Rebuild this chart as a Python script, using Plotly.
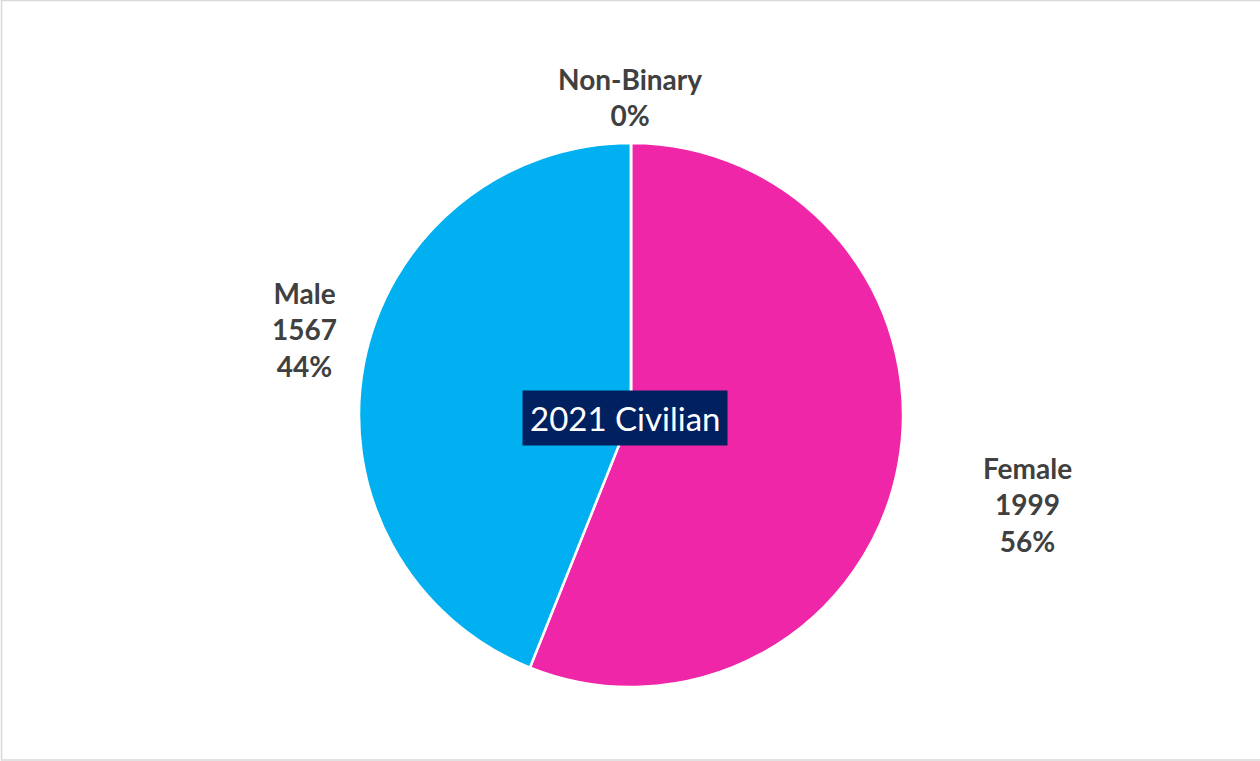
import math
import plotly.graph_objects as go

labels = ["Female", "Male", "Non-Binary"]
values = [1999, 1567, 0]
show_count = [True, True, False]
colors = ["#F026A8", "#00B0F0", "#7F7F7F"]
label_dist = [1.49, 1.24, 1.17]        # label distance as fraction of radius
label_shift = [(-1, -13), (5, 22), (-1, 0)]  # pixel nudges (x, y-up)
center_title = "2021 Civilian"

W, H = 1260, 761
cx, cy, R = 631, 415, 272

fig = go.Figure(go.Pie(
    labels=labels, values=values, sort=False, direction="clockwise", rotation=0,
    marker=dict(colors=colors, line=dict(color="white", width=2.5)),
    textinfo="none", hoverinfo="label+value+percent", showlegend=False,
    domain=dict(x=[(cx - R) / W, (cx + R) / W], y=[1 - (cy + R) / H, 1 - (cy - R) / H]),
))

total = sum(values)
cum = 0
annotations = []
for lab, v, sc, f, (sx, sy) in zip(labels, values, show_count, label_dist, label_shift):
    frac = v / total
    mid = (cum + frac / 2) * 2 * math.pi
    if v == 0:
        mid = cum * 2 * math.pi if cum < 1 else 0
    cum += frac
    px = cx + f * R * math.sin(mid)
    py = cy - f * R * math.cos(mid)
    pct = round(frac * 100)
    lines = [lab] + ([str(v)] if sc else []) + [f"{pct}%"]
    annotations.append(dict(
        x=px / W, y=1 - py / H, xref="paper", yref="paper", showarrow=False,
        xshift=sx, yshift=sy,
        text="<br>".join(f"<b>{t}</b>" for t in lines),
        font=dict(family="Lato, Open Sans, sans-serif", size=28, color="#404040"),
        align="center", xanchor="center", yanchor="middle",
    ))

annotations.append(dict(
    x=625 / W, y=1 - 418 / H, xref="paper", yref="paper", showarrow=False,
    text=center_title, font=dict(family="Lato, Open Sans, sans-serif", size=33, color="white"),
    bgcolor="#002060", borderpad=7, xanchor="center", yanchor="middle",
))

fig.update_layout(
    width=W, height=H, margin=dict(l=0, r=0, t=0, b=0),
    paper_bgcolor="white", plot_bgcolor="white",
    annotations=annotations,
    shapes=[dict(type="rect", xref="paper", yref="paper", x0=0.0012, x1=1.2, y0=0.0013, y1=0.9995,
                 line=dict(color="#D9D9D9", width=1.5), fillcolor="rgba(0,0,0,0)")],
)

fig.write_html("out.html", config={"displayModeBar": False},
               post_script="document.body.style.margin='0';document.body.style.overflow='hidden';")
